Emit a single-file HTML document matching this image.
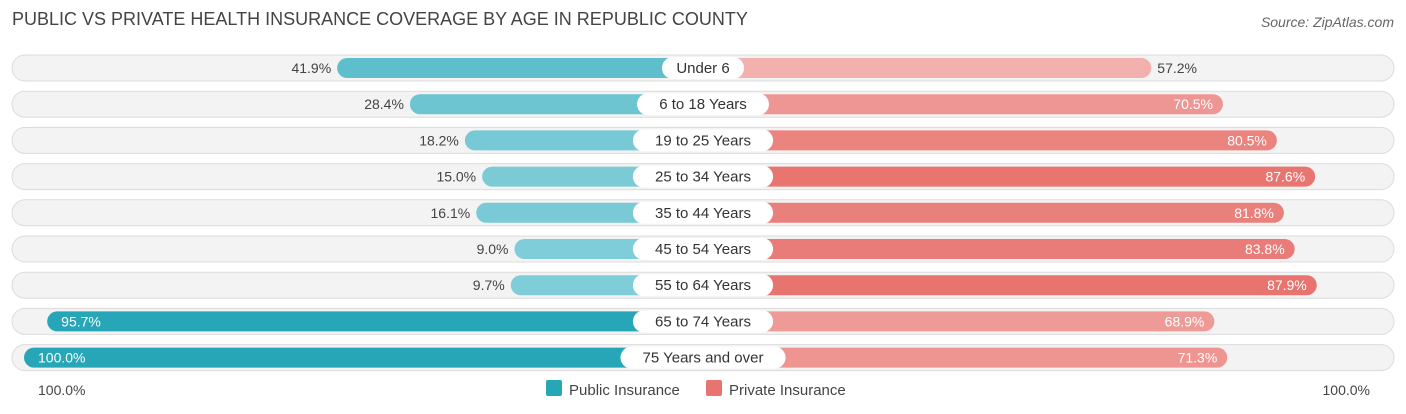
<!DOCTYPE html>
<html><head><meta charset="utf-8"><style>
body{margin:0;width:1406px;height:414px;background:#fff;font-family:"Liberation Sans",sans-serif;overflow:hidden;position:relative}
.t{position:absolute;left:12px;top:9px;font-size:18px;color:#444}
.s{position:absolute;right:12px;top:14px;font-size:14px;color:#666;font-style:italic}
</style></head><body>
<div class="t">PUBLIC VS PRIVATE HEALTH INSURANCE COVERAGE BY AGE IN REPUBLIC COUNTY</div>
<div class="s">Source: ZipAtlas.com</div>
<svg id="c" width="1406" height="414" style="position:absolute;left:0;top:0"></svg>
<script>
const categories=["Under 6","6 to 18 Years","19 to 25 Years","25 to 34 Years","35 to 44 Years","45 to 54 Years","55 to 64 Years","65 to 74 Years","75 Years and over"];
const publicVals=[41.9,28.4,18.2,15.0,16.1,9.0,9.7,95.7,100.0];
const privateVals=[57.2,70.5,80.5,87.6,81.8,83.8,87.9,68.9,71.3];
const NS="http://www.w3.org/2000/svg",svg=document.getElementById('c');
const cx=703,base=140,k=5.39,y0=68,dy=36.2;
function w(v){return base+k*v;}
function mix(a,b,t){return '#'+[0,1,2].map(i=>{const x=parseInt(a.substr(1+2*i,2),16),y=parseInt(b.substr(1+2*i,2),16);return Math.round(x+(y-x)*t).toString(16).padStart(2,'0');}).join('');}
function mk(tag,at,p){const e=document.createElementNS(NS,tag);for(const a in at)e.setAttribute(a,at[a]);(p||svg).appendChild(e);return e;}
categories.forEach((cat,i)=>{
 const y=y0+i*dy;
 const bg=mk('rect',{x:12,y:y-13,width:1382,height:26,rx:13,fill:'#f3f3f3',stroke:'#dcdcdc'});
 
 
 const pv=publicVals[i],qv=privateVals[i];
 const pw=w(pv),qw=w(qv);
 const pb=mk('rect',{x:cx-pw,y:y-10,width:pw,height:20,rx:10,fill:mix('#7fcdd8','#27a6b7',Math.min(1,Math.max(0,(pv-10)/85)))});
 
 
 const qb=mk('rect',{x:cx,y:y-10,width:qw,height:20,rx:10,fill:mix('#f3b5b3','#e8746f',Math.min(1,Math.max(0,(qv-55)/33)))});
 
 
 const pin=pv>90;
 const pt=mk('text',{x:pin?cx-pw+14:cx-pw-6,y:y+5,'font-size':14,fill:pin?'#fff':'#444','text-anchor':pin?'start':'end'});
 pt.textContent=pv.toFixed(1)+'%';
 
 
 const qin=qv>65;
 const qt=mk('text',{x:qin?cx+qw-10:cx+qw+6,y:y+5,'font-size':14,fill:qin?'#fff':'#444','text-anchor':qin?'end':'start'});
 qt.textContent=qv.toFixed(1)+'%';
 
 
 const lw=cat.length*8.3+24;
 const lb=mk('rect',{x:cx-lw/2,y:y-11,width:lw,height:22,rx:11,fill:'#fff'});
 
 
 const lt=mk('text',{x:cx,y:y+5,'font-size':15,fill:'#333','text-anchor':'middle'});
 lt.textContent=cat;
 
 
});
const a1=mk('text',{x:38,y:395,'font-size':14,fill:'#444'});a1.textContent='100.0%';


const a2=mk('text',{x:1370,y:395,'font-size':14,fill:'#444','text-anchor':'end'});a2.textContent='100.0%';


const l1=mk('rect',{x:546,y:380,width:16,height:16,rx:2,fill:'#27a6b7'});


const t1=mk('text',{x:569,y:395,'font-size':15,fill:'#444'});t1.textContent='Public Insurance';


const l2=mk('rect',{x:706,y:380,width:16,height:16,rx:2,fill:'#e8746f'});


const t2=mk('text',{x:729,y:395,'font-size':15,fill:'#444'});t2.textContent='Private Insurance';


</script>
</body></html>
